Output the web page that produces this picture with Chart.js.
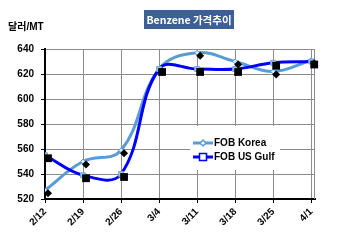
<!DOCTYPE html>
<html><head><meta charset="utf-8">
<script src="https://cdn.jsdelivr.net/npm/chart.js@4/dist/chart.umd.min.js"></script>
<style>html,body{margin:0;padding:0;background:#fff}#wrap{width:350px;height:246px;position:relative}</style>
</head><body><div id="wrap"><canvas id="c" width="350" height="246"></canvas></div>
<script>
const categories = ['2/12','2/19','2/26','3/4','3/11','3/18','3/25','4/1'];
const fobKorea = [527, 550, 559, 624, 637, 630, 622, 631];
const fobUSGulf = [555, 539, 540, 624, 624, 624, 629, 630];
const yTicks = [520, 540, 560, 580, 600, 620, 640];
const seriesNames = ['FOB Korea', 'FOB US Gulf'];
const titleText = 'Benzene 가격추이';
const yAxisTitle = '달러/MT';

const KOREA = '#5B9BD5', GULF = '#0000FF';
const FONT = '"Liberation Sans", Arial, "Noto Sans CJK KR", sans-serif';
const toPts = arr => arr.map((v, i) => ({x: i, y: v}));

const shadowPlugin = {
  id: 'shadowOffset',
  beforeDatasetDraw(chart, args) {
    if (args.index < 2) { chart.ctx.save(); chart.ctx.translate(3, 3); }
  },
  afterDatasetDraw(chart, args) {
    if (args.index < 2) chart.ctx.restore();
  }
};

const decoPlugin = {
  id: 'deco',
  beforeDatasetsDraw(chart) {
    const {ctx, chartArea: a} = chart;
    ctx.save();
    ctx.strokeStyle = '#8c8c8c'; ctx.lineWidth = 1;
    ctx.beginPath(); ctx.moveTo(a.right - 0.5, a.top); ctx.lineTo(a.right - 0.5, a.bottom); ctx.stroke();
    ctx.restore();
  },
  afterDraw(chart) {
    const {ctx} = chart;
    ctx.save();
    // title box
    ctx.fillStyle = '#3B5F96';
    ctx.fillRect(144, 10, 90, 19);
    ctx.fillStyle = '#fff';
    ctx.font = 'bold 10.5px "Noto Sans CJK KR", sans-serif';
    ctx.textAlign = 'center'; ctx.textBaseline = 'middle';
    ctx.fillText(titleText, 189, 20);
    // y axis title
    ctx.fillStyle = '#000';
    ctx.textAlign = 'left';
    ctx.font = 'bold 10px ' + FONT;
    ctx.fillText(yAxisTitle, 8, 27);
    // legend
    ctx.fillStyle = '#fff';
    ctx.fillRect(190, 126, 90, 44);
    const rows = [
      {name: seriesNames[0], color: KOREA, y: 143, style: 'diamond'},
      {name: seriesNames[1], color: GULF, y: 157, style: 'square'}
    ];
    rows.forEach(r => {
      ctx.strokeStyle = r.color; ctx.lineWidth = 3;
      ctx.beginPath(); ctx.moveTo(193, r.y); ctx.lineTo(213, r.y); ctx.stroke();
      ctx.fillStyle = '#fff'; ctx.lineWidth = 1.5;
      if (r.style === 'square') {
        ctx.fillRect(199.5, r.y - 3.5, 7, 7); ctx.strokeRect(199.5, r.y - 3.5, 7, 7);
      } else {
        ctx.beginPath(); ctx.moveTo(203, r.y - 3); ctx.lineTo(206, r.y); ctx.lineTo(203, r.y + 3); ctx.lineTo(200, r.y); ctx.closePath();
        ctx.fill(); ctx.stroke();
      }
      ctx.fillStyle = '#000';
      ctx.font = 'bold 10px ' + FONT;
      ctx.textAlign = 'left'; ctx.textBaseline = 'middle';
      ctx.fillText(r.name, 214, r.y + 0.5);
    });
    ctx.restore();
  }
};

new Chart(document.getElementById('c'), {
  type: 'line',
  data: {
    datasets: [
      {label: seriesNames[0] + ' marker', data: toPts(fobKorea), showLine: false, clip: false, pointStyle: 'rectRot',
       pointRadius: 4, pointBackgroundColor: '#000', pointBorderColor: '#000', borderWidth: 0},
      {label: seriesNames[1] + ' marker', data: toPts(fobUSGulf), showLine: false, clip: false, pointStyle: 'rect',
       pointRadius: 5.5, pointBackgroundColor: '#000', pointBorderColor: '#000', borderWidth: 0},
      {label: seriesNames[1], data: toPts(fobUSGulf), borderColor: GULF, borderWidth: 3, tension: 0.4,
       pointStyle: 'rect', pointRadius: 3.5, pointBackgroundColor: '#9DC3E6', pointBorderColor: '#6FA8DC', pointBorderWidth: 1},
      {label: seriesNames[0], data: toPts(fobKorea), borderColor: KOREA, borderWidth: 3, tension: 0.4,
       pointStyle: 'rectRot', pointRadius: 2.5, pointBackgroundColor: '#DDEBF7', pointBorderColor: KOREA, pointBorderWidth: 1}
    ]
  },
  options: {
    responsive: false,
    animation: false,
    layout: {padding: {top: 49, right: 35, left: 0, bottom: 0}},
    plugins: {legend: {display: false}, tooltip: {enabled: false}, title: {display: false}},
    scales: {
      x: {
        type: 'linear', min: 0, max: 7.1,
        afterBuildTicks: s => { s.ticks = categories.map((_, i) => ({value: i})); },
        afterFit: s => { s.height = 47; },
        grid: {color: '#8c8c8c', lineWidth: 1, tickLength: 4, drawTicks: true, tickColor: '#000'},
        border: {color: '#000', width: 2},
        ticks: {
          autoSkip: false, maxRotation: 45, minRotation: 45, padding: 3, color: '#000',
          font: {family: FONT, size: 10, weight: 'bold'},
          callback: v => categories[v]
        }
      },
      y: {
        min: yTicks[0], max: yTicks[yTicks.length - 1],
        afterBuildTicks: s => { s.ticks = yTicks.map(v => ({value: v})); },
        afterFit: s => { s.width = 45; },
        grid: {color: '#8c8c8c', lineWidth: 1, tickLength: 4, drawTicks: true, tickColor: '#000'},
        border: {color: '#000', width: 2},
        ticks: {padding: 7, color: '#000', font: {family: FONT, size: 10, weight: 'bold'}}
      }
    }
  },
  plugins: [shadowPlugin, decoPlugin]
});
</script>
</body></html>
